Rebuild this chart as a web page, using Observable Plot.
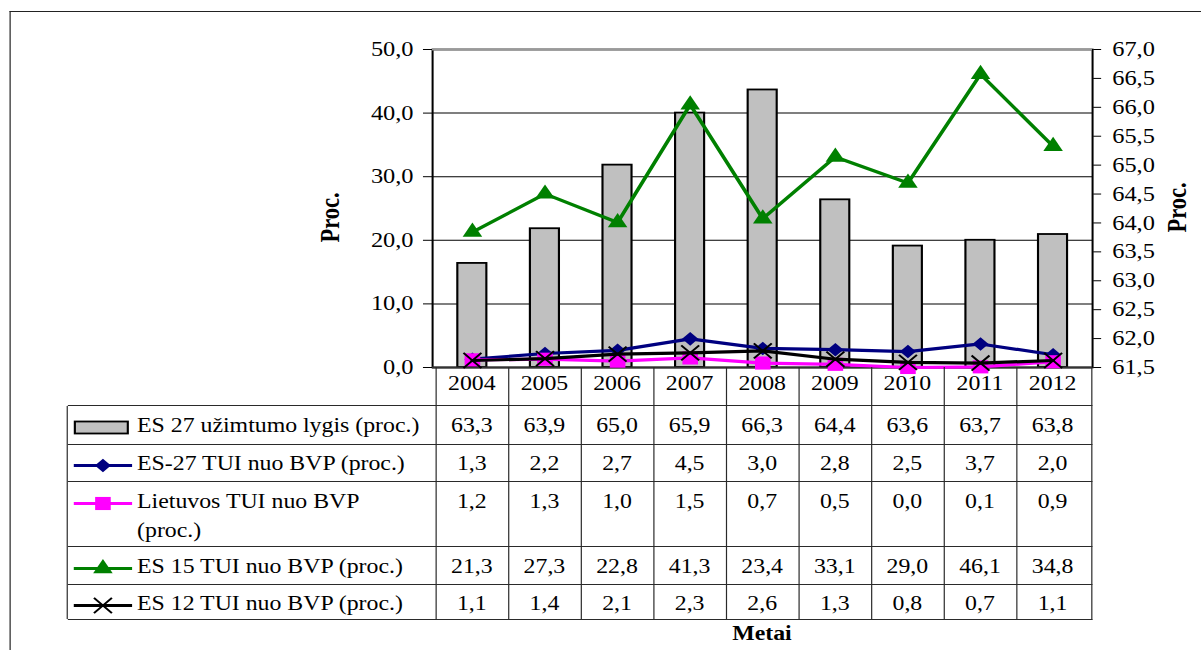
<!DOCTYPE html>
<html>
<head>
<meta charset="utf-8">
<script src="https://cdn.jsdelivr.net/npm/d3@7"></script>
<script src="https://cdn.jsdelivr.net/npm/@observablehq/plot@0.6"></script>
<style>
html, body { margin: 0; padding: 0; background: #fff; overflow: hidden; width: 1201px; height: 650px; }
#wrap { position: absolute; left: 0; top: 0; height: 650px; transform-origin: 0 0;
  font-family: 'Liberation Serif', 'Tinos', 'Times New Roman', 'DejaVu Serif', serif; color: #000; }
#wrap svg.plot { position: absolute; left: 0; top: 0; }
.frame { position: absolute; border-top: 1.8px solid #222; border-left: 1.6px solid #222; }
.hl { position: absolute; height: 1px; background: #2a2a2a; }
.vl { position: absolute; width: 1px; background: #2a2a2a; }
.cell { position: absolute; text-align: center; font-size: 20px; line-height: 29px; white-space: nowrap; }
.lab { position: absolute; font-size: 20px; line-height: 29px; white-space: pre; display: flex; align-items: flex-start; }
.title { position: absolute; font-weight: bold; font-size: 20px; line-height: 29px; text-align: center; }
</style>
</head>
<body>
<div id="wrap"></div>
<script>
// ---------- data ----------
const years = [2004, 2005, 2006, 2007, 2008, 2009, 2010, 2011, 2012];
const employmentEU27 = [63.3, 63.9, 65.0, 65.9, 66.3, 64.4, 63.6, 63.7, 63.8];
const fdiEU27 = [1.3, 2.2, 2.7, 4.5, 3.0, 2.8, 2.5, 3.7, 2.0];
const fdiLithuania = [1.2, 1.3, 1.0, 1.5, 0.7, 0.5, 0.0, 0.1, 0.9];
const fdiEU15 = [21.3, 27.3, 22.8, 41.3, 23.4, 33.1, 29.0, 46.1, 34.8];
const fdiEU12 = [1.1, 1.4, 2.1, 2.3, 2.6, 1.3, 0.8, 0.7, 1.1];
const seriesNames = [
  "ES 27 užimtumo lygis (proc.)",
  "ES-27 TUI nuo BVP (proc.)",
  "Lietuvos TUI nuo BVP\n(proc.)",
  "ES 15 TUI nuo BVP (proc.)",
  "ES 12 TUI nuo BVP (proc.)"
];
const leftTicks = [0, 10, 20, 30, 40, 50];
const rightTicks = [61.5, 62.0, 62.5, 63.0, 63.5, 64.0, 64.5, 65.0, 65.5, 66.0, 66.5, 67.0];
const yTitle = "Proc.";
const xTitle = "Metai";

// ---------- layout ----------
const S = 1.19;                 // horizontal stretch of the original picture
const W = 1201 / S;
const plotLeft = 432 / S, plotRight = 1092 / S, plotTop = 49, plotBottom = 367;
const svgH = 372;
const tableLeft = 67.7 / S;
const headerTop = 367;
const rowTops = [405.7, 444.3, 481.7, 546.7, 584.3];
const tableBottom = 619;

const wrap = document.getElementById("wrap");
wrap.style.width = W + "px";
wrap.style.transform = `scaleX(${S})`;

const fmt = v => v.toFixed(1).replace(".", ",");
const lo = leftTicks[0], hi = leftTicks[leftTicks.length - 1];
const rlo = rightTicks[0], rhi = rightTicks[rightTicks.length - 1];
const toLeft = v => (v - rlo) / (rhi - rlo) * (hi - lo) + lo;
const fromLeft = v => (v - lo) / (hi - lo) * (rhi - rlo) + rlo;

const barData = years.map((year, i) => ({year, value: employmentEU27[i]}));
const lineSeries = [
  {values: fdiEU27, color: "#000080", symbol: "diamond2", r: 6.1, type: d3.symbolDiamond2},
  {values: fdiLithuania, color: "#FF00FF", symbol: "square", r: 7.4, type: d3.symbolSquare},
  {values: fdiEU15, color: "#008000", symbol: "triangle", r: 6.1, type: d3.symbolTriangle},
  {values: fdiEU12, color: "#000000", symbol: "times", r: 6.9, type: d3.symbolTimes, stroked: true}
];

const seriesMarks = lineSeries.flatMap(s => {
  const data = years.map((year, i) => ({year, value: s.values[i]}));
  return [
    Plot.lineY(data, {x: "year", y: "value", stroke: s.color, strokeWidth: 3.2}),
    s.stroked
      ? Plot.dot(data, {x: "year", y: "value", symbol: s.symbol, r: s.r, stroke: s.color, fill: "none", strokeWidth: 1.8})
      : Plot.dot(data, {x: "year", y: "value", symbol: s.symbol, r: s.r, fill: s.color, stroke: "none"})
  ];
});

const plot = Plot.plot({
  width: W,
  height: svgH,
  marginLeft: plotLeft,
  marginRight: W - plotRight,
  marginTop: plotTop,
  marginBottom: svgH - plotBottom,
  x: {type: "band", domain: years, padding: 0, axis: null},
  y: {domain: [lo, hi], axis: null},
  style: "font-family:'Liberation Serif','Tinos','Times New Roman','DejaVu Serif',serif;font-size:20.5px;background:transparent;overflow:visible;color:#000;",
  marks: [
    Plot.ruleY(leftTicks.slice(1, -1), {stroke: "#000", strokeWidth: 1}),
    Plot.barY(barData, {x: "year", y: d => toLeft(d.value), fill: "#C0C0C0", stroke: "#000", strokeWidth: 1.8, insetLeft: 18.3, insetRight: 18.3}),
    Plot.frame({stroke: "#000", strokeWidth: 1.7}),
    Plot.ruleY([hi], {stroke: "#9a9a9a", strokeWidth: 2.2}),
    Plot.ruleY([lo], {stroke: "#333", strokeWidth: 2}),
    Plot.axisY(leftTicks, {anchor: "left", tickSize: 7.6, tickPadding: 8.4, tickFormat: fmt, label: null}),
    Plot.axisY(rightTicks.map(toLeft), {anchor: "right", tickSize: 6.7, tickPadding: 9.8, tickFormat: d => fmt(fromLeft(d)), label: null}),
    ...seriesMarks,
    Plot.text([yTitle], {text: d => d, frameAnchor: "left", textAnchor: "middle", dx: -86, dy: 9, rotate: -90, fontWeight: "bold", fontSize: 22.5}),
    Plot.text([yTitle], {text: d => d, frameAnchor: "right", textAnchor: "middle", dx: 71.2, dy: -1, rotate: -90, fontWeight: "bold", fontSize: 22.5})
  ]
});
plot.classList.add("plot");

// outer frame
const frame = document.createElement("div");
frame.className = "frame";
Object.assign(frame.style, {left: (10 / S - 0.8) + "px", top: "11.2px", width: (W + 20) + "px", height: "700px"});
wrap.appendChild(frame);
wrap.appendChild(plot);

// ---------- data table ----------
const xs = plot.scale("x");
const bw = xs.bandwidth;
const colLeft = year => xs.apply(year);

function add(cls, style, text) {
  const el = document.createElement("div");
  el.className = cls;
  Object.assign(el.style, style);
  if (text != null) el.textContent = text;
  wrap.appendChild(el);
  return el;
}

// horizontal rules
[...rowTops, tableBottom].forEach(y => add("hl", {left: tableLeft + "px", top: (y - 0.5) + "px", width: (plotRight - tableLeft + 0.5) + "px"}));
// vertical rules
add("vl", {left: (tableLeft - 0.5) + "px", top: rowTops[0] + "px", height: (tableBottom - rowTops[0]) + "px"});
years.forEach(y => add("vl", {left: (colLeft(y) - 0.5) + "px", top: headerTop + "px", height: (tableBottom - headerTop) + "px"}));
add("vl", {left: (plotRight - 0.5) + "px", top: headerTop + "px", height: (tableBottom - headerTop + 0.5) + "px"});

// header years
years.forEach(y => add("cell", {left: colLeft(y) + "px", width: bw + "px", top: (headerTop + 1.7) + "px"}, String(y)));

// rows
const rowValues = [employmentEU27, fdiEU27, fdiLithuania, fdiEU15, fdiEU12];
const legendDefs = [{bar: true}, ...lineSeries];
rowValues.forEach((vals, r) => {
  const top = rowTops[r] + 5;
  vals.forEach((v, i) => add("cell", {left: colLeft(years[i]) + "px", width: bw + "px", top: top + "px"}, fmt(v)));
  const lab = add("lab", {left: (tableLeft + 5.5) + "px", top: top + "px"});
  const sym = d3.create("svg").attr("width", 49).attr("height", 29).style("flex", "none").style("overflow", "visible");
  const def = legendDefs[r];
  if (def.bar) {
    sym.append("rect").attr("x", 0.9).attr("y", 10.5).attr("width", 44.5).attr("height", 12)
      .attr("fill", "#C0C0C0").attr("stroke", "#000").attr("stroke-width", 1.8);
  } else {
    sym.append("line").attr("x1", 0).attr("x2", 49).attr("y1", 16.5).attr("y2", 16.5)
      .attr("stroke", def.color).attr("stroke-width", 3.2);
    const path = d3.symbol(def.type, Math.PI * def.r * def.r)();
    const p = sym.append("path").attr("d", path).attr("transform", "translate(24.5,16.5)");
    if (def.stroked) p.attr("fill", "none").attr("stroke", def.color).attr("stroke-width", 1.8);
    else p.attr("fill", def.color);
  }
  lab.appendChild(sym.node());
  const txt = document.createElement("div");
  txt.style.marginLeft = "3.8px";
  txt.textContent = seriesNames[r];
  lab.appendChild(txt);
});

// x title
add("title", {left: plotLeft + "px", width: (plotRight - plotLeft) + "px", top: "618.7px"}, xTitle);
</script>
</body>
</html>
